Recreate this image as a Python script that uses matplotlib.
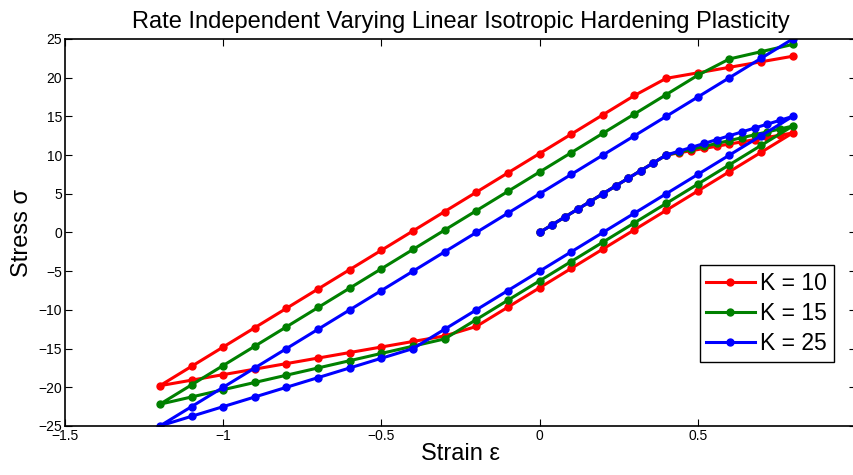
"""Rate independent plasticity loops with varying linear isotropic hardening."""

import matplotlib

matplotlib.use("Agg")
import matplotlib.pyplot as plt

plt.rcParams["font.family"] = ["Liberation Sans", "DejaVu Sans"]

# strain path: load 0 -> 0.8, unload to -1.2, reload to 0.8
strain = [
    0.0, 0.04, 0.08, 0.12, 0.16, 0.2, 0.24, 0.28, 0.32, 0.36, 0.4,
    0.44, 0.48, 0.52, 0.56, 0.6, 0.64, 0.68, 0.72, 0.76, 0.8,
    0.7, 0.6, 0.5, 0.4, 0.3, 0.2, 0.1, 0.0, -0.1, -0.2,
    -0.3, -0.4, -0.5, -0.6, -0.7, -0.8, -0.9, -1.0, -1.1, -1.2,
    -1.1, -1.0, -0.9, -0.8, -0.7, -0.6, -0.5, -0.4, -0.3, -0.2,
    -0.1, 0.0, 0.1, 0.2, 0.3, 0.4, 0.5, 0.6, 0.7, 0.8,
]

stress_k10 = [
    0, 1, 2, 3, 4, 5, 6, 7, 8, 9, 10,
    10.286, 10.571, 10.857, 11.143, 11.429, 11.714, 12.0, 12.286, 12.571, 12.857,
    10.357, 7.857, 5.357, 2.857, 0.357, -2.143, -4.643, -7.143, -9.643, -12.143,
    -13.367, -14.082, -14.796, -15.510, -16.224, -16.939, -17.653, -18.367, -19.082, -19.796,
    -17.296, -14.796, -12.296, -9.796, -7.296, -4.796, -2.296, 0.204, 2.704, 5.204,
    7.704, 10.204, 12.704, 15.204, 17.704, 19.913, 20.627, 21.341, 22.056, 22.770,
]

stress_k15 = [
    0, 1, 2, 3, 4, 5, 6, 7, 8, 9, 10,
    10.375, 10.75, 11.125, 11.5, 11.875, 12.25, 12.625, 13.0, 13.375, 13.75,
    11.25, 8.75, 6.25, 3.75, 1.25, -1.25, -3.75, -6.25, -8.75, -11.25,
    -13.75, -14.688, -15.625, -16.563, -17.5, -18.438, -19.375, -20.313, -21.25, -22.188,
    -19.688, -17.188, -14.688, -12.188, -9.688, -7.188, -4.688, -2.188, 0.313, 2.813,
    5.313, 7.813, 10.313, 12.813, 15.313, 17.813, 20.313, 22.422, 23.359, 24.297,
]

stress_k25 = [
    0, 1, 2, 3, 4, 5, 6, 7, 8, 9, 10,
    10.5, 11, 11.5, 12, 12.5, 13, 13.5, 14, 14.5, 15,
    12.5, 10, 7.5, 5, 2.5, 0, -2.5, -5, -7.5, -10,
    -12.5, -15, -16.25, -17.5, -18.75, -20, -21.25, -22.5, -23.75, -25,
    -22.5, -20, -17.5, -15, -12.5, -10, -7.5, -5, -2.5, 0,
    2.5, 5, 7.5, 10, 12.5, 15, 17.5, 20, 22.5, 25,
]

labels = ["K = 10", "K = 15", "K = 25"]
colors = ["#ff0000", "#008000", "#0000ff"]

x_ticks = [-1.5, -1, -0.5, 0, 0.5, 1]
x_tick_labels = ["\u22121.5", "\u22121", "\u22120.5", "0", "0.5", "1"]
y_ticks = [-25, -20, -15, -10, -5, 0, 5, 10, 15, 20, 25]


def main() -> None:
    fig = plt.figure(figsize=(8.54, 4.75), dpi=100)
    # axes runs just past the right edge, as in the cropped original
    ax = fig.add_axes([0.0761, 0.1032, 0.9262, 0.8147])

    for stress, label, color in zip([stress_k10, stress_k15, stress_k25], labels, colors):
        ax.plot(strain, stress, color=color, lw=2.2, marker=".", ms=10, label=label)

    ax.set_xlim(-1.5, 1)
    ax.set_ylim(-25, 25)
    ax.set_xticks(x_ticks)
    ax.set_xticklabels(x_tick_labels)
    ax.set_yticks(y_ticks)
    ax.tick_params(direction="in", top=True, right=True, length=5, labelsize=10, pad=2)
    for spine in ax.spines.values():
        spine.set_linewidth(1.2)

    ax.set_title("Rate Independent Varying Linear Isotropic Hardening Plasticity", fontsize=17, pad=8)
    ax.set_xlabel("Strain \u03b5", fontsize=17, labelpad=0)
    ax.set_ylabel("Stress \u03c3", fontsize=17, labelpad=4)

    ax.legend(
        loc="lower right",
        bbox_to_anchor=(0.9766, 0.238),
        bbox_transform=fig.transFigure,
        borderaxespad=0,
        fontsize=16.5,
        fancybox=False,
        framealpha=1,
        edgecolor="black",
        handlelength=2.1,
        handletextpad=0.25,
        labelspacing=0.3,
        borderpad=0.3,
    )

    fig.savefig("out.png", dpi=100)
    plt.close(fig)


if __name__ == "__main__":
    main()
